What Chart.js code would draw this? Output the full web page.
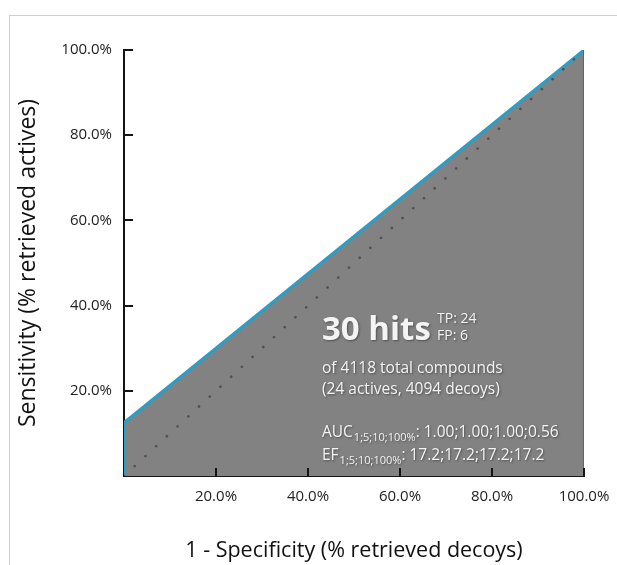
<!DOCTYPE html>
<html>
<head>
<meta charset="utf-8">
<script src="https://cdn.jsdelivr.net/npm/chart.js@4/dist/chart.umd.min.js"></script>
<style>
  html, body { margin: 0; padding: 0; background: #fff; }
  #wrap { position: relative; width: 617px; height: 565px; overflow: hidden; }
  #frame { position: absolute; left: 9px; top: 15px; width: 620px; height: 560px;
           border-top: 1px solid #cfcfcf; border-left: 1px solid #cfcfcf; }
  canvas { position: absolute; left: 0; top: 0; }
</style>
</head>
<body>
<div id="wrap">
  <div id="frame"></div>
  <canvas id="c" width="617" height="565"></canvas>
</div>
<script>
// ---- data ----
const rocX = [0, 0, 100];
const rocY = [0, 12.5, 100];
const randomX = [0, 100];
const randomY = [0, 100];
const edgeX = [100, 100];
const edgeY = [0, 100];
const xTickValues = [0, 20, 40, 60, 80, 100];
const xTickLabels = ['', '20.0%', '40.0%', '60.0%', '80.0%', '100.0%'];
const yTickValues = [0, 20, 40, 60, 80, 100];
const yTickLabels = ['', '20.0%', '40.0%', '60.0%', '80.0%', '100.0%'];
const xTitle = '1 - Specificity (% retrieved decoys)';
const yTitle = 'Sensitivity (% retrieved actives)';
const hitsText = '30 hits';
const tpText = 'TP: 24';
const fpText = 'FP: 6';
const infoLines = ['of 4118 total compounds', '(24 actives, 4094 decoys)'];
const aucLabel = ['AUC', '1;5;10;100%', ': 1.00;1.00;1.00;0.56'];
const efLabel = ['EF', '1;5;10;100%', ': 17.2;17.2;17.2;17.2'];

const FONT = "'Open Sans', 'Noto Sans', sans-serif";
const toPts = (xs, ys) => xs.map((x, i) => ({x, y: ys[i]}));

const inwardTicks = {
  id: 'inwardTicks',
  afterDatasetsDraw(chart) {
    const {ctx, scales: {x, y}, chartArea} = chart;
    ctx.save();
    ctx.strokeStyle = '#151515';
    ctx.lineWidth = 2;
    ctx.beginPath();
    xTickValues.forEach(v => {
      if (v === 0) return;
      const px = Math.round(x.getPixelForValue(v));
      ctx.moveTo(px, chartArea.bottom);
      ctx.lineTo(px, chartArea.bottom - 8);
    });
    yTickValues.forEach(v => {
      if (v === 0) return;
      const py = Math.round(y.getPixelForValue(v));
      ctx.moveTo(chartArea.left, py);
      ctx.lineTo(chartArea.left + 9, py);
    });
    ctx.stroke();
    ctx.restore();
  }
};

const annotation = {
  id: 'annotation',
  afterDraw(chart) {
    const {ctx, chartArea} = chart;
    const L = chartArea.left + 198;
    const T = chartArea.top;
    ctx.save();
    ctx.fillStyle = '#f4f4f4';
    ctx.shadowColor = 'rgba(40,40,40,0.55)';
    ctx.shadowBlur = 2;
    ctx.shadowOffsetX = 1;
    ctx.shadowOffsetY = 1;
    ctx.textBaseline = 'alphabetic';
    ctx.textAlign = 'left';
    ctx.font = 'bold 33px ' + FONT;
    ctx.fillText(hitsText, L, T + 290);
    ctx.font = '14px ' + FONT;
    ctx.fillText(tpText, L + 115, T + 273);
    ctx.fillText(fpText, L + 115, T + 290);
    ctx.font = '15.5px ' + FONT;
    ctx.fillText(infoLines[0], L, T + 323);
    ctx.fillText(infoLines[1], L, T + 344);
    const drawSub = (parts, base) => {
      ctx.font = '15.5px ' + FONT;
      let xx = L;
      ctx.fillText(parts[0], xx, base);
      xx += ctx.measureText(parts[0]).width;
      ctx.font = '11px ' + FONT;
      ctx.fillText(parts[1], xx + 1, base + 4);
      xx += ctx.measureText(parts[1]).width + 1;
      ctx.font = '15.5px ' + FONT;
      ctx.fillText(parts[2], xx, base);
    };
    drawSub(aucLabel, T + 387);
    drawSub(efLabel, T + 410);
    ctx.restore();
  }
};

new Chart(document.getElementById('c'), {
  type: 'scatter',
  data: {
    datasets: [
      {
        label: 'ROC',
        data: toPts(rocX, rocY),
        showLine: true,
        borderColor: '#2c9ec6',
        borderWidth: 3,
        backgroundColor: '#828282',
        fill: 'origin',
        pointRadius: 0,
        tension: 0,
        order: 3
      },
      {
        label: 'edge',
        data: toPts(edgeX, edgeY),
        showLine: true,
        borderColor: '#5a5a5a',
        borderWidth: 1.5,
        pointRadius: 0,
        fill: false,
        order: 2
      },
      {
        label: 'random',
        data: toPts(randomX, randomY),
        showLine: true,
        borderColor: '#505050',
        borderWidth: 2.6,
        borderDash: [0.1, 14.5],
        borderCapStyle: 'round',
        pointRadius: 0,
        fill: false,
        order: 1
      }
    ]
  },
  options: {
    responsive: false,
    animation: false,
    layout: { padding: { left: 0, top: 50, right: 33, bottom: 0 } },
    plugins: { legend: { display: false }, tooltip: { enabled: false } },
    scales: {
      x: {
        type: 'linear', min: 0, max: 100,
        afterBuildTicks: s => { s.ticks = xTickValues.map(v => ({value: v})); },
        afterFit: s => { s.height = 89; s.paddingLeft = 0; s.paddingRight = 0; },
        grid: { display: true, drawOnChartArea: false, drawTicks: false },
        border: { display: true, color: '#151515', width: 2 },
        ticks: {
          padding: 12, color: '#222', font: { family: FONT, size: 15 },
          maxRotation: 0, autoSkip: false,
          callback: (v, i) => xTickLabels[xTickValues.indexOf(v)]
        },
        title: {
          display: true, text: xTitle, color: '#111',
          font: { family: FONT, size: 21.5 }, padding: { top: 0, bottom: 1 }
        }
      },
      y: {
        type: 'linear', min: 0, max: 100,
        afterBuildTicks: s => { s.ticks = yTickValues.map(v => ({value: v})); },
        afterFit: s => { s.width = 124; s.paddingTop = 0; s.paddingBottom = 0; },
        grid: { display: true, drawOnChartArea: false, drawTicks: false },
        border: { display: true, color: '#151515', width: 2 },
        ticks: {
          padding: 12, color: '#222', font: { family: FONT, size: 15 },
          autoSkip: false,
          callback: (v, i) => yTickLabels[yTickValues.indexOf(v)]
        },
        title: {
          display: true, text: yTitle, color: '#111',
          font: { family: FONT, size: 23 }, padding: { top: 15, bottom: 0 }
        }
      }
    }
  },
  plugins: [inwardTicks, annotation]
});
</script>
</body>
</html>
